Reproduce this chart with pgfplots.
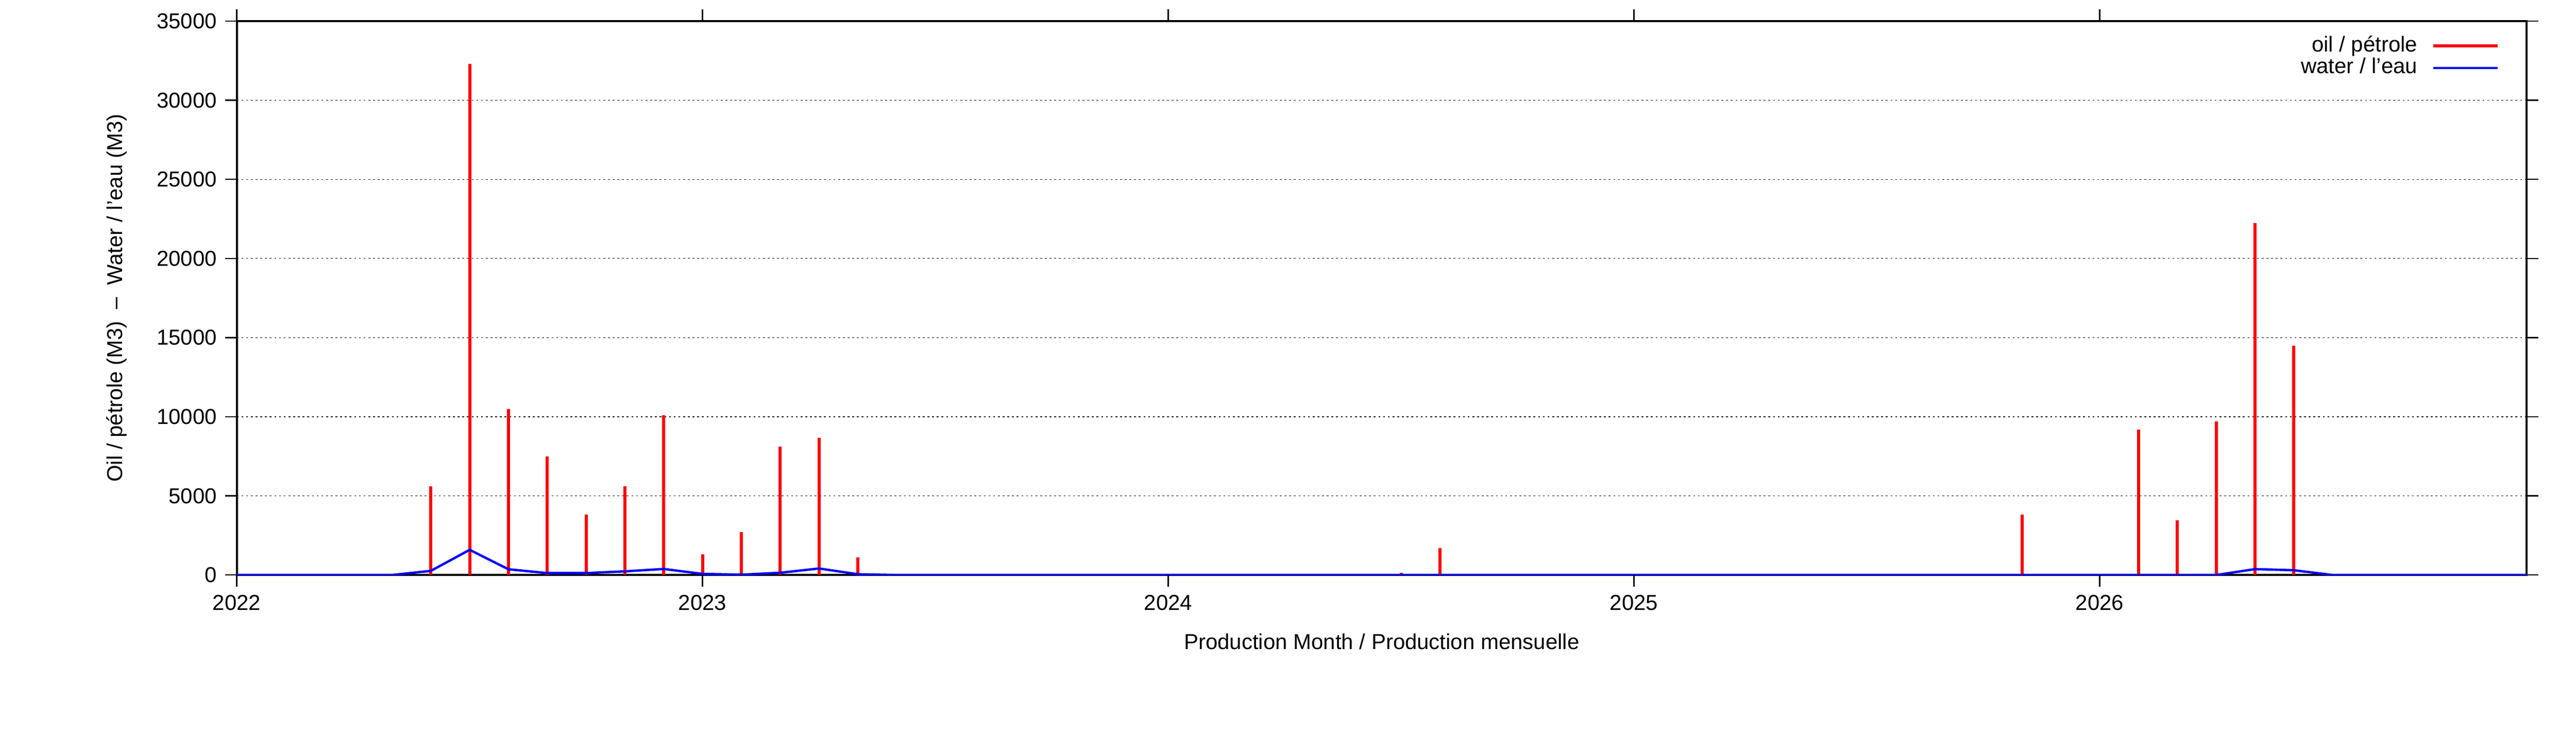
\documentclass[border=0pt]{standalone}
\usepackage{fontspec}
\setmainfont{Liberation Sans}
\usepackage{pgfplots}
\pgfplotsset{compat=1.18}
\pgfplotsset{linelegend/.style={legend image code/.code={\draw[##1] (0pt,0pt) -- (27.4pt,0pt);}}}

% month index: 0 = Jan 2022 ... 59 = Dec 2026
\pgfplotstableread{
m oil
5 5600
6 32300
7 10500
8 7500
9 3800
10 5600
11 10100
12 1300
13 2700
14 8100
15 8650
16 1100
30 150
31 1700
46 3800
49 9200
50 3450
51 9700
52 22250
53 14500
}\oildata

\pgfplotstableread{
m water
0 0
1 0
2 0
3 0
4 0
5 260
6 1590
7 360
8 120
9 120
10 230
11 380
12 70
13 20
14 140
15 410
16 50
17 0
30 0
51 0
52 370
53 300
54 0
59 0
}\waterdata

\begin{document}
\begin{tikzpicture}[font=\fontsize{9.2pt}{11pt}\selectfont]
\begin{axis}[
    scale only axis,
    width=974.8pt, height=235.8pt,
    xmin=0, xmax=59,
    ymin=0, ymax=35000,
    xtick={0,12,24,36,48},
    xticklabels={2022,2023,2024,2025,2026},
    ytick={0,5000,...,35000},
    scaled y ticks=false,
    /pgf/number format/1000 sep={},
    /pgf/number format/assume math mode=true,
    tick align=outside,
    major tick length=5pt,
    tick style={line width=0.55pt, black},
    axis line style={line width=0.85pt},
    ymajorgrids,
    grid style={line width=0.25pt, black, dash pattern=on 0.8pt off 1.2pt},
    xlabel={Production Month / Production mensuelle},
    ylabel={Oil / pétrole (M3)\ \ –\ \ Water / l’eau (M3)},
    every axis x label/.style={at={(axis description cs:0.5,-0.134)}, anchor=base},
    every axis y label/.style={at={(axis description cs:-0.0499,0.5)}, rotate=90, anchor=base},
    legend style={at={(axis description cs:0.9883,0.974)}, anchor=north east,
        draw=none, fill=none, inner sep=0pt, row sep=1pt, column sep=6.2pt,
        nodes={inner sep=0pt, text height=6.6pt, text depth=1.8pt}},
    legend cell align=right,
    legend plot pos=right,
    linelegend,
]
\addplot[red, line width=1.3pt, ycomb, linelegend]
    table[x=m, y=oil] {\oildata};
\addplot[blue, line width=1pt, mark=none] table[x=m, y=water] {\waterdata};
\legend{oil / pétrole, water / l’eau}
\end{axis}
\pgfresetboundingbox
\path ([shift={(-100.8pt,-74pt)}]current axis.south west) rectangle ([shift={(21pt,9pt)}]current axis.north east);
\end{tikzpicture}
\end{document}
